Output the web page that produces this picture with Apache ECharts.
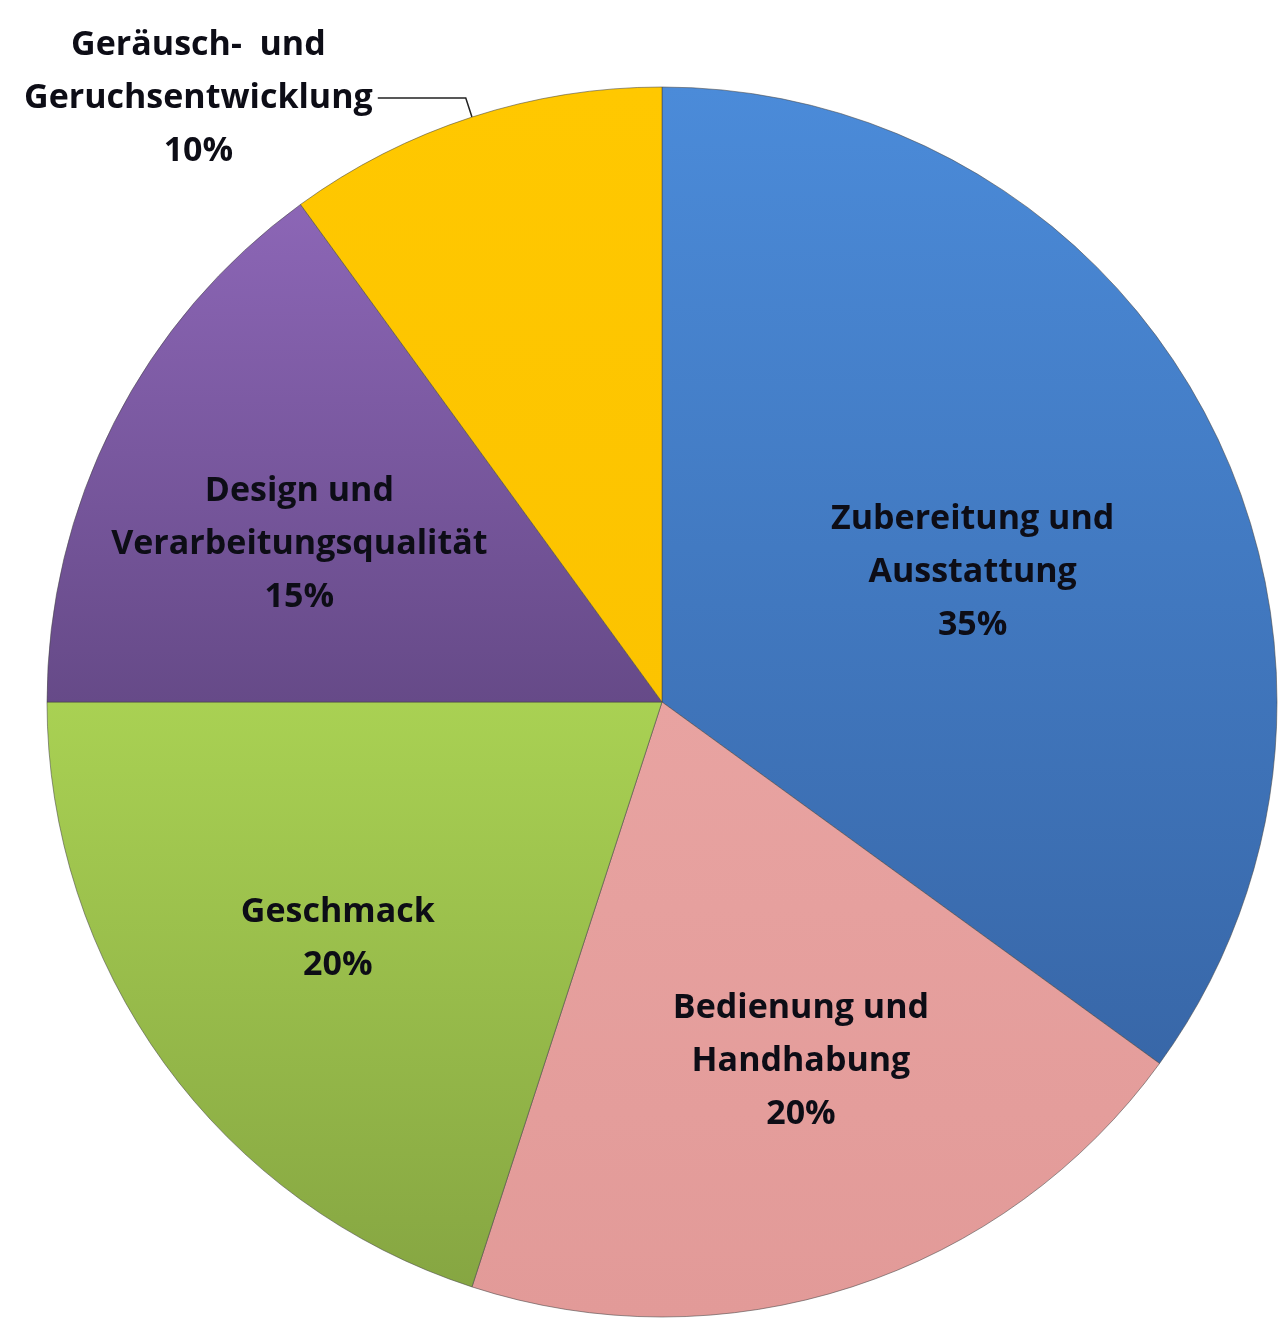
<!DOCTYPE html>
<html>
<head>
<meta charset="utf-8">
<script src="https://cdn.jsdelivr.net/npm/echarts@6/dist/echarts.min.js"></script>
<style>
  html, body { margin: 0; padding: 0; background: #fff; }
  #chart { width: 1280px; height: 1325px; }
</style>
</head>
<body>
<div id="chart"></div>
<script>
// Anteile der Kriterien
var categories = [
    'Zubereitung und\nAusstattung',
    'Bedienung und\nHandhabung',
    'Geschmack',
    'Design und\nVerarbeitungsqualität',
    'Geräusch-  und\nGeruchsentwicklung'
];
var values = [35, 20, 20, 15, 10];
var colorsTop = ['#4b8bd9', '#e8a3a1', '#a9d153', '#8c66b6', '#ffc800'];
var colorsBottom = ['#3867a8', '#e29a98', '#86a642', '#664a88', '#fcc300'];

// Verschiebung der inneren Beschriftungen (px)
var labelOffsets = [[34, 11], [43, 64], [-73, 54], [-86, -17], [0, 0]];

var textStyle = {
    fontFamily: 'Open Sans',
    fontWeight: 'bold',
    fontSize: 34,
    lineHeight: 53,
    color: '#0d0d16'
};

var chart = echarts.init(document.getElementById('chart'));

var data = values.map(function (v, i) {
    var item = {
        value: v,
        name: categories[i],
        itemStyle: {
            color: new echarts.graphic.LinearGradient(0, 0, 0, 1, [
                {offset: 0, color: colorsTop[i]},
                {offset: 1, color: colorsBottom[i]}
            ])
        },
        label: {offset: labelOffsets[i]}
    };
    if (i === 4) {
        item.label = {
            position: 'outside',
            formatter: function (p) {
                return p.name.split('\n').map(function (s) {
                    return '{c|' + s + '}';
                }).join('\n') + '\n{c|' + p.value + '%}';
            },
            rich: {
                c: Object.assign({align: 'center'}, textStyle)
            }
        };
        item.labelLine = {
            show: true,
            length: 20,
            length2: 88,
            lineStyle: {color: '#222', width: 1.5}
        };
    }
    return item;
});

var option = {
    animation: false,
    series: [
        {
            type: 'pie',
            center: [662, 702],
            radius: 615,
            startAngle: 90,
            clockwise: true,
            data: data,
            itemStyle: {
                borderColor: 'rgba(70,70,70,0.55)',
                borderWidth: 1
            },
            label: Object.assign({
                show: true,
                position: 'inside',
                formatter: '{b}\n{c}%'
            }, textStyle),
            labelLine: {show: false}
        }
    ]
};
chart.setOption(option);
</script>
</body>
</html>
